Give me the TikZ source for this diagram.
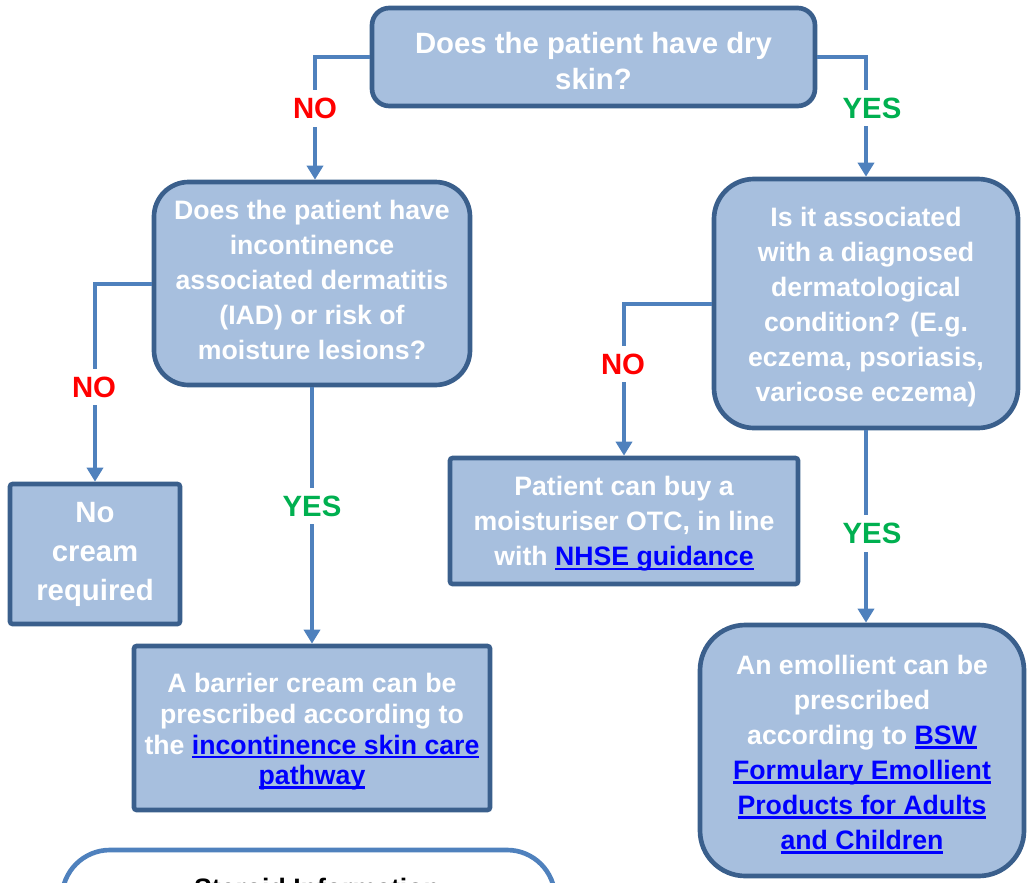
\documentclass[tikz,border=0pt]{standalone}
\usepackage{fontspec}
\setmainfont{Liberation Sans}
\usetikzlibrary{arrows.meta,calc}
\definecolor{boxfill}{HTML}{A7BFDE}
\definecolor{boxline}{HTML}{3A5F8C}
\definecolor{connblue}{HTML}{4F81BD}
\definecolor{linkblue}{HTML}{0000FF}
\definecolor{nored}{HTML}{FF0000}
\definecolor{yesgreen}{HTML}{00B050}
\newcommand\lnk[1]{{\color{linkblue}\setbox0\hbox{#1}\rlap{\rule[-3.2pt]{\wd0}{1.8pt}}\box0}}
\begin{document}
\begin{tikzpicture}[x=0.75pt,y=-0.75pt,
  box/.style={draw=boxline, fill=boxfill, line width=3.5pt, align=center, text=white,
    font=\bfseries\fontsize{20}{26.25}\selectfont, inner sep=0pt},
  conn/.style={draw=connblue, line width=3pt, -{Triangle[width=12pt,length=10.5pt]}},
  lab/.style={fill=white, font=\bfseries\fontsize{22}{26}\selectfont, inner xsep=3pt, inner ysep=6pt},
  nolab/.style={lab, text=nored},
  yeslab/.style={lab, text=yesgreen}]
\useasboundingbox (0,0) rectangle (1028,882);
\clip (0,0) rectangle (1028,882);

% boxes
\node[box, minimum width=332.25pt, minimum height=73.5pt, rounded corners=13pt,
  font=\bfseries\fontsize{22}{27}\selectfont, text height=48.75pt] (q1) at (593.5,57)
  {Does the patient have dry\\skin?};
\node[box, minimum width=237pt, minimum height=152.25pt, rounded corners=26pt,
  text depth=6pt] (q2) at (312,283.5)
  {Does the patient have\\incontinence\\associated dermatitis\\(IAD) or risk of\\moisture lesions?};
\node[box, minimum width=228pt, minimum height=186.75pt, rounded corners=30pt,
  text height=151.6pt] (q3) at (866,303.5)
  {Is it associated\\with a diagnosed\\dermatological\\condition? (E.g.\\eczema, psoriasis,\\varicose eczema)};
\node[box, minimum width=127.5pt, minimum height=105pt, rounded corners=2pt,
  font=\bfseries\fontsize{22}{29.25}\selectfont] (nocream) at (95,554)
  {No\\cream\\required};
\node[box, minimum width=267pt, minimum height=123pt, rounded corners=2pt,
  font=\bfseries\fontsize{20}{22.9}\selectfont, text height=89pt] (barrier) at (312,728)
  {A barrier cream can be\\prescribed according to\\the \lnk{incontinence skin care}\\\lnk{pathway}};
\node[box, minimum width=261pt, minimum height=94.5pt, rounded corners=2pt,
  text height=71.3pt] (buy) at (624,521)
  {Patient can buy a\\moisturiser OTC, in line\\with \lnk{NHSE guidance}};
\node[box, minimum width=243pt, minimum height=188.25pt, rounded corners=34pt,
  text height=151.6pt] (emol) at (862,750.5)
  {An emollient can be\\prescribed\\according to \lnk{BSW}\\\lnk{Formulary Emollient}\\\lnk{Products for Adults}\\\lnk{and Children}};
\node[draw=connblue, fill=white, line width=3.5pt, rounded corners=36pt,
  minimum width=369.75pt, minimum height=225pt, inner sep=0pt] (info) at (308.5,1000) {};
\node[anchor=base, font=\bfseries\fontsize{20}{24}\selectfont] (infotitle) at (317,897)
  {Steroid Information};

% connectors
\draw[conn] (q1.west) -| ($(q2.north)+(3,0)$);
\draw[conn] (q1.east) -| (q3.north);
\draw[conn] (q2.west) -| (nocream.north);
\draw[conn] (q2.south) -- (barrier.north);
\draw[conn] (q3.west) -| (buy.north);
\draw[conn] (q3.south) -- (q3.south |- emol.north);

% labels
\node[nolab] (l1) at (315,108.5) {NO};
\node[yeslab] (l2) at (872,108) {YES};
\node[nolab] (l3) at (94,387) {NO};
\node[yeslab] (l4) at (312,506) {YES};
\node[nolab] (l5) at (623,364) {NO};
\node[yeslab] (l6) at (872,533.5) {YES};
\end{tikzpicture}
\end{document}
